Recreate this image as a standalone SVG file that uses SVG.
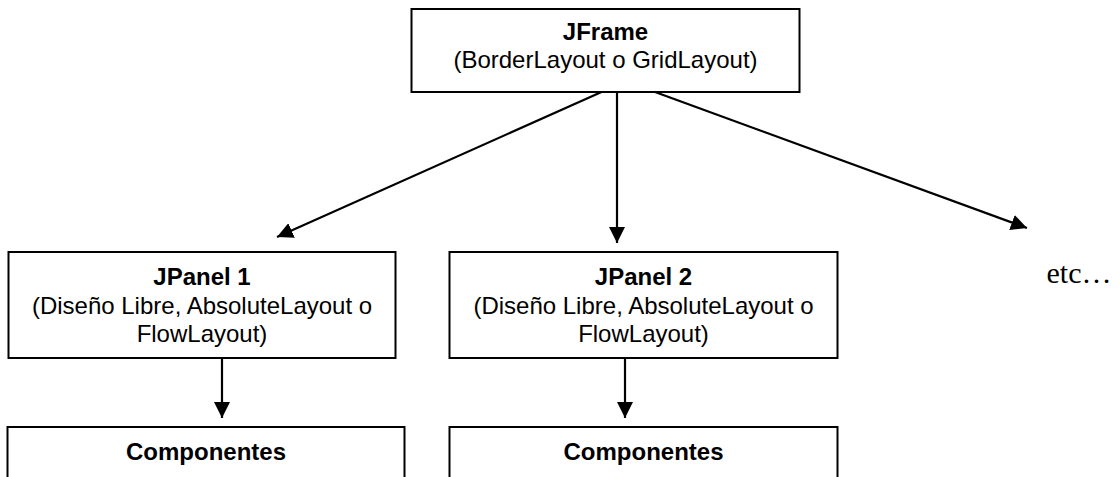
<svg xmlns="http://www.w3.org/2000/svg" width="1119" height="477" viewBox="0 0 1119 477">
<defs>
<style>
.box{fill:#fff;stroke:#000;stroke-width:2}
.t{font-family:"Liberation Sans",Arial,sans-serif;font-size:24px;fill:#000;text-anchor:middle}
.b{font-weight:bold}
.c{stroke:#000;stroke-width:2.2;fill:none;marker-end:url(#ah)}
</style>
<marker id="ah" viewBox="0 0 10 10" refX="10" refY="5" markerUnits="userSpaceOnUse" markerWidth="16" markerHeight="16" orient="auto">
<path d="M0,0 L10,5 L0,10 Z" fill="#000"/>
</marker>
</defs>
<rect width="1119" height="477" fill="#fff"/>
<g id="connectors">
<line class="c" x1="601.5" y1="92" x2="277" y2="237"/>
<line class="c" x1="617" y1="92" x2="617" y2="243"/>
<line class="c" x1="655" y1="92" x2="1027" y2="228"/>
<line class="c" x1="222" y1="358" x2="222" y2="418"/>
<line class="c" x1="625" y1="358" x2="625" y2="418"/>
</g>
<g id="jframe">
<rect class="box" x="411.5" y="9" width="388" height="83"/>
<text class="t b" x="605.5" y="40">JFrame</text>
<text class="t" x="605.5" y="68">(BorderLayout o GridLayout)</text>
</g>
<g id="jpanel1">
<rect class="box" x="8.5" y="252" width="387" height="106"/>
<text class="t b" x="202" y="285">JPanel 1</text>
<text class="t" x="202" y="314">(Diseño Libre, AbsoluteLayout o</text>
<text class="t" x="202" y="342">FlowLayout)</text>
</g>
<g id="jpanel2">
<rect class="box" x="449.5" y="252" width="388" height="106"/>
<text class="t b" x="643.5" y="285">JPanel 2</text>
<text class="t" x="643.5" y="314">(Diseño Libre, AbsoluteLayout o</text>
<text class="t" x="643.5" y="342">FlowLayout)</text>
</g>
<g id="componentes1">
<rect class="box" x="7.5" y="427" width="397" height="60"/>
<text class="t b" x="206" y="460">Componentes</text>
</g>
<g id="componentes2">
<rect class="box" x="449.5" y="427" width="388" height="60"/>
<text class="t b" x="643.5" y="460">Componentes</text>
</g>
<g id="etc">
<text x="1046.5" y="283" font-family="'Liberation Serif','Times New Roman',serif" font-size="30" fill="#000">etc…</text>
</g>
</svg>
